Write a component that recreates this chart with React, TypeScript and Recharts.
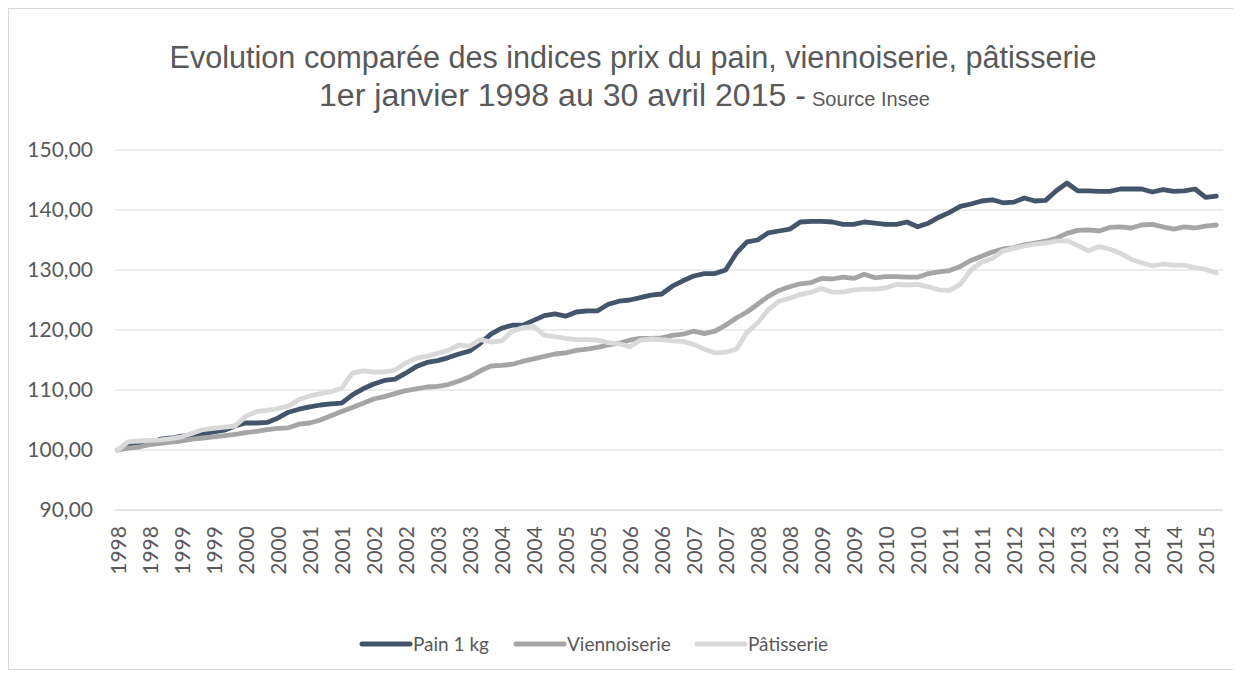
import React from 'react';
import { LineChart, Line, XAxis, YAxis, CartesianGrid, Legend } from 'recharts';

// Tick labels on the category axis (one every 6 months, Jan 1998 .. Jan 2015)
const TICK_LABELS = [
  '1998', '1998', '1999', '1999', '2000', '2000', '2001', '2001', '2002', '2002',
  '2003', '2003', '2004', '2004', '2005', '2005', '2006', '2006', '2007', '2007',
  '2008', '2008', '2009', '2009', '2010', '2010', '2011', '2011', '2012', '2012',
  '2013', '2013', '2014', '2014', '2015',
];

// Bi-monthly readings, Jan 1998 .. Mar 2015
const PAIN = [
  100.0, 100.6, 100.9, 101.2, 101.8, 102.0, 102.3, 102.5, 102.7, 103.0,
  103.3, 104.0, 104.5, 104.5, 104.6, 105.3, 106.3, 106.8, 107.2, 107.5,
  107.7, 107.8, 109.2, 110.2, 111.0, 111.6, 111.8, 112.8, 113.9, 114.6,
  114.9, 115.4, 116.0, 116.5, 117.8, 119.3, 120.3, 120.8, 120.8, 121.6,
  122.4, 122.7, 122.3, 123.0, 123.2, 123.2, 124.3, 124.8, 125.0, 125.4,
  125.8, 126.0, 127.3, 128.2, 129.0, 129.4, 129.4, 130.0, 132.8, 134.7,
  135.0, 136.2, 136.5, 136.8, 138.0, 138.1, 138.1, 138.0, 137.6, 137.6,
  138.0, 137.8, 137.6, 137.6, 138.0, 137.2, 137.8, 138.8, 139.6, 140.6,
  141.0, 141.5, 141.7, 141.2, 141.3, 142.0, 141.5, 141.6, 143.2, 144.5,
  143.2, 143.2, 143.1, 143.1, 143.5, 143.5, 143.5, 143.0, 143.4, 143.1,
  143.2, 143.5, 142.1, 142.3,
];
const VIENNOISERIE = [
  100.0, 100.3, 100.5, 100.9, 101.1, 101.3, 101.5, 101.8, 102.0, 102.2,
  102.4, 102.6, 102.9, 103.1, 103.4, 103.6, 103.7, 104.3, 104.5, 105.0,
  105.7, 106.4, 107.1, 107.8, 108.5, 108.9, 109.4, 109.9, 110.2, 110.5,
  110.6, 110.9, 111.5, 112.2, 113.2, 114.0, 114.1, 114.3, 114.8, 115.2,
  115.6, 116.0, 116.2, 116.6, 116.8, 117.1, 117.5, 117.8, 118.3, 118.6,
  118.6, 118.7, 119.1, 119.3, 119.8, 119.4, 119.8, 120.8, 122.0, 123.0,
  124.3, 125.6, 126.6, 127.2, 127.7, 127.9, 128.6, 128.5, 128.8, 128.6,
  129.3, 128.7, 128.9, 128.9, 128.8, 128.8, 129.4, 129.7, 129.9, 130.6,
  131.6, 132.3, 133.0, 133.5, 133.7, 134.2, 134.5, 134.8, 135.3, 136.1,
  136.6, 136.7, 136.5, 137.1, 137.2, 137.0, 137.5, 137.6, 137.2, 136.8,
  137.2, 137.0, 137.3, 137.5,
];
const PATISSERIE = [
  100.0, 101.4, 101.5, 101.6, 101.7, 101.9, 102.2, 102.8, 103.4, 103.6,
  103.8, 104.0, 105.6, 106.4, 106.6, 106.9, 107.3, 108.4, 109.0, 109.4,
  109.7, 110.3, 112.8, 113.2, 113.0, 113.0, 113.3, 114.5, 115.3, 115.6,
  116.1, 116.6, 117.5, 117.3, 118.4, 118.0, 118.2, 119.8, 120.4, 120.6,
  119.1, 118.9, 118.6, 118.4, 118.4, 118.3, 117.9, 117.7, 117.2, 118.3,
  118.5, 118.4, 118.2, 118.1, 117.6, 116.8, 116.2, 116.3, 116.8, 119.6,
  121.2, 123.4, 124.8, 125.3, 125.9, 126.3, 126.9, 126.3, 126.3, 126.7,
  126.8, 126.8, 127.0, 127.6, 127.5, 127.6, 127.2, 126.7, 126.6, 127.6,
  130.0, 131.3, 131.9, 133.2, 133.6, 134.0, 134.3, 134.5, 134.8, 134.9,
  134.1, 133.2, 133.9, 133.5, 132.8, 131.8, 131.2, 130.7, 131.0, 130.8,
  130.8, 130.4, 130.1, 129.5,
];

const Y_TICKS = [90, 100, 110, 120, 130, 140, 150];

const SERIES = [
  { key: 'pain', name: 'Pain 1 kg', color: '#44546A' },
  { key: 'viennoiserie', name: 'Viennoiserie', color: '#A5A5A5' },
  { key: 'patisserie', name: 'Pâtisserie', color: '#D9D9D9' },
];

const data = PAIN.map((v, i) => ({
  period: String(i),
  label: i % 3 === 0 ? TICK_LABELS[i / 3] : '',
  pain: v,
  viennoiserie: VIENNOISERIE[i],
  patisserie: PATISSERIE[i],
}));

const TEXT = '#595959';
const FONT = 'Lato, "Open Sans", sans-serif';
const TITLE_FONT = '"Liberation Sans", Arial, sans-serif';

const XTick = (props: any) => {
  const { x, y, payload } = props;
  const idx = Number(payload.value);
  const label = data[idx] ? data[idx].label : '';
  const ty = y + 8;
  return (
    <text
      x={x + 1}
      y={ty}
      transform={`rotate(-90, ${x + 1}, ${ty})`}
      textAnchor="end"
      dy="0.36em"
      fill={TEXT}
      fontSize={21}
      fontFamily={FONT}
    >
      {label}
    </text>
  );
};

const LegendContent = () => {
  const items = [
    { ...SERIES[0], x: 362, w: 48 },
    { ...SERIES[1], x: 516, w: 48 },
    { ...SERIES[2], x: 697, w: 48 },
  ];
  return (
    <svg width={1224} height={30} style={{ display: 'block' }}>
      {items.map((it) => (
        <g key={it.key}>
          <line x1={it.x - 9} y1={15} x2={it.x - 9 + it.w} y2={15} stroke={it.color} strokeWidth={5} strokeLinecap="round" />
          <text x={it.x - 9 + it.w + 3} y={15} dy="0.36em" fill={TEXT} fontSize={19} fontFamily={FONT}>
            {it.name}
          </text>
        </g>
      ))}
    </svg>
  );
};

export default function App() {
  return (
    <div
      style={{
        position: 'relative',
        width: 1224,
        height: 660,
        border: '1px solid #D9D9D9',
        background: '#fff',
      }}
    >
      <svg width={1224} height={130} style={{ position: 'absolute', left: 0, top: 0 }}>
        <text
          x={624}
          y={59}
          textAnchor="middle"
          fill={TEXT}
          fontSize={31}
          fontFamily={TITLE_FONT}
          textLength={927}
          lengthAdjust="spacingAndGlyphs"
        >
          Evolution comparée des indices prix du pain, viennoiserie, pâtisserie
        </text>
        <text
          x={310}
          y={97}
          textAnchor="start"
          fill={TEXT}
          fontSize={31}
          fontFamily={TITLE_FONT}
          textLength={487}
          lengthAdjust="spacingAndGlyphs"
        >
          1er janvier 1998 au 30 avril 2015 -
        </text>
        <text
          x={803}
          y={97}
          textAnchor="start"
          fill={TEXT}
          fontSize={21}
          fontFamily={TITLE_FONT}
          textLength={118}
          lengthAdjust="spacingAndGlyphs"
        >
          Source Insee
        </text>
      </svg>
      <LineChart
        width={1224}
        height={660}
        data={data}
        margin={{ top: 141, right: 10, bottom: 69, left: 0 }}
        style={{ position: 'absolute', left: 0, top: 0 }}
      >
        <CartesianGrid horizontal vertical={false} stroke="#D9D9D9" strokeWidth={1} />
        <XAxis
          dataKey="period"
          interval={2}
          height={60}
          tick={<XTick />}
          tickLine={false}
          axisLine={{ stroke: '#D9D9D9' }}
          padding={{ left: 2.7, right: 6.7 }}
        />
        <YAxis
          domain={[90, 150]}
          ticks={Y_TICKS}
          width={106}
          axisLine={false}
          tickLine={false}
          tickSize={0}
          tickMargin={22}
          tickFormatter={(v: number) => v.toFixed(2).replace('.', ',')}
          tick={{ fill: TEXT, fontSize: 21, fontFamily: FONT }}
        />
        {SERIES.map((s) => (
          <Line
            key={s.key}
            type="linear"
            dataKey={s.key}
            name={s.name}
            stroke={s.color}
            strokeWidth={4.8}
            strokeLinejoin="round"
            strokeLinecap="round"
            dot={false}
            activeDot={false}
            isAnimationActive={false}
          />
        ))}
        <Legend
          layout="vertical"
          align="center"
          verticalAlign="bottom"
          content={<LegendContent />}
          wrapperStyle={{ top: 620, left: 0, width: 1224, height: 30 }}
        />
      </LineChart>
    </div>
  );
}
